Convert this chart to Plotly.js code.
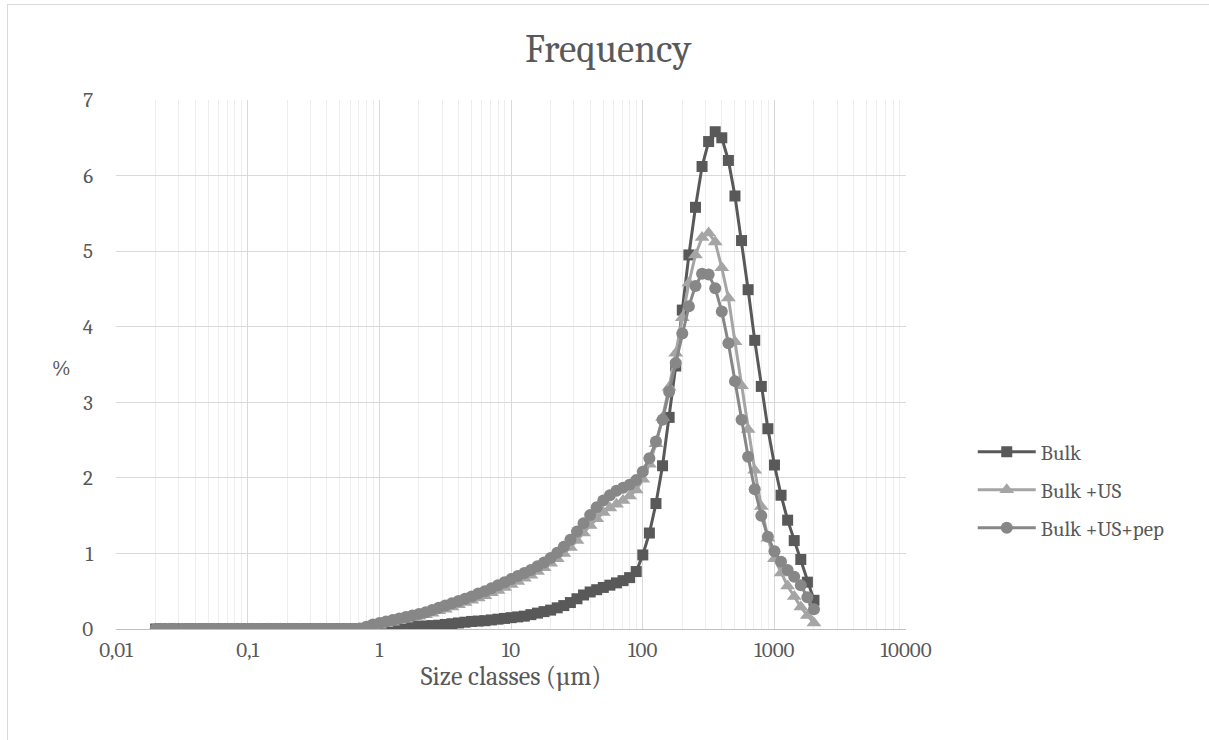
<!DOCTYPE html>
<html>
<head>
<meta charset="utf-8">
<script src="https://cdn.plot.ly/plotly-3.0.1.min.js"></script>
<style>
  html, body { margin: 0; padding: 0; background: #ffffff; }
  #wrap { position: relative; width: 1209px; height: 740px; overflow: hidden; }
  #chart { position: absolute; left: 0; top: 0; width: 1209px; height: 740px; }
  #frame { position: absolute; left: 7px; top: 4px; width: 1300px; height: 800px;
           border-top: 1px solid #d9d9d9; border-left: 1px solid #d9d9d9; pointer-events: none; }
</style>
</head>
<body>
<div id="wrap"><div id="chart"></div><div id="frame"></div></div>
<script>
// Size classes (µm)
const sizeClasses = [0.020, 0.022, 0.025, 0.028, 0.032, 0.036, 0.040, 0.045, 0.050, 0.056,
  0.063, 0.071, 0.080, 0.089, 0.100, 0.112, 0.126, 0.142, 0.159, 0.178,
  0.200, 0.224, 0.252, 0.283, 0.317, 0.356, 0.399, 0.448, 0.502, 0.564,
  0.632, 0.710, 0.796, 0.893, 1.002, 1.125, 1.262, 1.416, 1.589, 1.783,
  2.000, 2.244, 2.518, 2.825, 3.170, 3.557, 3.991, 4.477, 5.024, 5.637,
  6.325, 7.096, 7.962, 8.934, 10.024, 11.247, 12.619, 14.159, 15.887, 17.825,
  20.000, 22.440, 25.179, 28.251, 31.698, 35.566, 39.905, 44.774, 50.238, 56.368,
  63.246, 70.963, 79.621, 89.337, 100.237, 112.468, 126.191, 141.589, 158.866, 178.250,
  200.000, 224.404, 251.785, 282.508, 316.979, 355.656, 399.052, 447.744, 502.377, 563.677,
  632.456, 709.627, 796.214, 893.367, 1002.374, 1124.683, 1261.915, 1415.892, 1588.656, 1782.502,
  2000.000];

const bulk = [0, 0, 0, 0, 0, 0, 0, 0, 0, 0,
  0, 0, 0, 0, 0, 0, 0, 0, 0, 0,
  0, 0, 0, 0, 0, 0, 0, 0, 0, 0,
  0, 0, 0, 0, 0.005, 0.01, 0.015, 0.02, 0.025, 0.03,
  0.035, 0.04, 0.045, 0.05, 0.06, 0.07, 0.08, 0.09, 0.10, 0.105,
  0.11, 0.12, 0.13, 0.14, 0.15, 0.16, 0.17, 0.19, 0.21, 0.23,
  0.25, 0.28, 0.31, 0.35, 0.40, 0.45, 0.49, 0.52, 0.55, 0.58,
  0.61, 0.64, 0.68, 0.76, 0.98, 1.27, 1.66, 2.16, 2.80, 3.48,
  4.22, 4.95, 5.58, 6.12, 6.45, 6.58, 6.50, 6.20, 5.73, 5.14,
  4.49, 3.82, 3.21, 2.65, 2.17, 1.77, 1.44, 1.17, 0.92, 0.62,
  0.38];

const bulkUS = [0, 0, 0, 0, 0, 0, 0, 0, 0, 0,
  0, 0, 0, 0, 0, 0, 0, 0, 0, 0,
  0, 0, 0, 0, 0, 0, 0, 0, 0, 0,
  0, 0, 0.01, 0.03, 0.05, 0.07, 0.09, 0.11, 0.13, 0.15,
  0.17, 0.19, 0.21, 0.24, 0.26, 0.29, 0.32, 0.35, 0.38, 0.41,
  0.44, 0.48, 0.51, 0.55, 0.59, 0.63, 0.67, 0.71, 0.76, 0.81,
  0.87, 0.93, 1.00, 1.08, 1.17, 1.27, 1.37, 1.46, 1.54, 1.60,
  1.65, 1.70, 1.76, 1.84, 1.98, 2.18, 2.45, 2.80, 3.20, 3.65,
  4.12, 4.58, 4.95, 5.18, 5.24, 5.12, 4.78, 4.38, 3.80, 3.22,
  2.64, 2.10, 1.62, 1.20, 0.93, 0.74, 0.57, 0.43, 0.29, 0.18,
  0.08];

const bulkUSpep = [0, 0, 0, 0, 0, 0, 0, 0, 0, 0,
  0, 0, 0, 0, 0, 0, 0, 0, 0, 0,
  0, 0, 0, 0, 0, 0, 0, 0, 0, 0,
  0, 0.005, 0.03, 0.06, 0.08, 0.10, 0.12, 0.14, 0.16, 0.18,
  0.20, 0.22, 0.25, 0.28, 0.31, 0.34, 0.37, 0.40, 0.43, 0.47,
  0.50, 0.54, 0.58, 0.62, 0.66, 0.70, 0.74, 0.78, 0.83, 0.88,
  0.94, 1.01, 1.09, 1.18, 1.29, 1.40, 1.51, 1.61, 1.70, 1.77,
  1.83, 1.87, 1.91, 1.97, 2.08, 2.26, 2.48, 2.77, 3.14, 3.52,
  3.91, 4.27, 4.54, 4.70, 4.69, 4.51, 4.20, 3.78, 3.28, 2.77,
  2.28, 1.85, 1.50, 1.22, 1.03, 0.89, 0.78, 0.69, 0.58, 0.42,
  0.26];

const seriesNames = ['Bulk', 'Bulk +US', 'Bulk +US+pep'];
const xTickVals = [0.01, 0.1, 1, 10, 100, 1000, 10000];
const xTickText = ['0,01', '0,1', '1', '10', '100', '1000', '10000'];
const yTickVals = [0, 1, 2, 3, 4, 5, 6, 7];

const FONT = 'Cambria, "Liberation Serif", serif';
const TXT = '#595959';

const traces = [
  { x: sizeClasses, y: bulk, name: seriesNames[0], type: 'scatter', mode: 'lines+markers',
    line: { color: '#595959', width: 3 },
    marker: { symbol: 'square', size: 11, color: '#595959' }, legend: 'legend' },
  { x: sizeClasses, y: bulkUS, name: seriesNames[1], type: 'scatter', mode: 'lines+markers',
    line: { color: '#a5a5a5', width: 3 },
    marker: { symbol: 'triangle-up', size: 13, color: '#a5a5a5' }, legend: 'legend2' },
  { x: sizeClasses, y: bulkUSpep, name: seriesNames[2], type: 'scatter', mode: 'lines+markers',
    line: { color: '#878787', width: 3 },
    marker: { symbol: 'circle', size: 12, color: '#878787' }, legend: 'legend3' }
];

const legendBase = {
  xref: 'paper', yref: 'paper', xanchor: 'left', yanchor: 'middle',
  bgcolor: 'rgba(0,0,0,0)', itemwidth: 58,
  font: { family: FONT, size: 21, color: TXT }
};
function leg(y) { return Object.assign({}, legendBase, { x: 1.0845, y: y }); }

const layout = {
  width: 1209, height: 740,
  margin: { l: 116, r: 303, t: 100, b: 111 },
  paper_bgcolor: '#ffffff', plot_bgcolor: '#ffffff',
  font: { family: FONT, color: TXT, size: 21 },
  title: { text: 'Frequency', x: 0.503, xanchor: 'center', y: 0.935, yanchor: 'middle',
           font: { family: FONT, size: 39, color: TXT } },
  showlegend: true,
  legend: leg((629 - 452) / 529),
  legend2: leg((629 - 490) / 529),
  legend3: leg((629 - 528) / 529),
  annotations: [{
    text: '%', xref: 'paper', yref: 'paper', x: (61 - 116) / 790, y: (629 - 368) / 529,
    xanchor: 'center', yanchor: 'middle', showarrow: false,
    font: { family: FONT, size: 21, color: TXT }
  }],
  xaxis: {
    type: 'log', range: [-2, 4],
    tickmode: 'array', tickvals: xTickVals, ticktext: xTickText,
    showgrid: true, gridcolor: '#d9d9d9', gridwidth: 1,
    minor: { dtick: 'D1', showgrid: true, gridcolor: '#eeeeee', gridwidth: 1, ticks: '' },
    showline: true, linecolor: '#bfbfbf', linewidth: 1,
    ticks: '', zeroline: false,
    ticklabelstandoff: 2,
    tickfont: { family: FONT, size: 21, color: TXT },
    title: { text: 'Size classes (µm)', font: { family: FONT, size: 26, color: TXT }, standoff: 0 }
  },
  yaxis: {
    range: [0, 7], tickmode: 'array', tickvals: yTickVals,
    showgrid: true, gridcolor: '#d9d9d9', gridwidth: 1,
    showline: false, zeroline: false, ticks: '',
    ticklabelstandoff: 22,
    tickfont: { family: FONT, size: 21, color: TXT }
  }
};

Plotly.newPlot('chart', traces, layout, { displayModeBar: false, staticPlot: true });
</script>
</body>
</html>
